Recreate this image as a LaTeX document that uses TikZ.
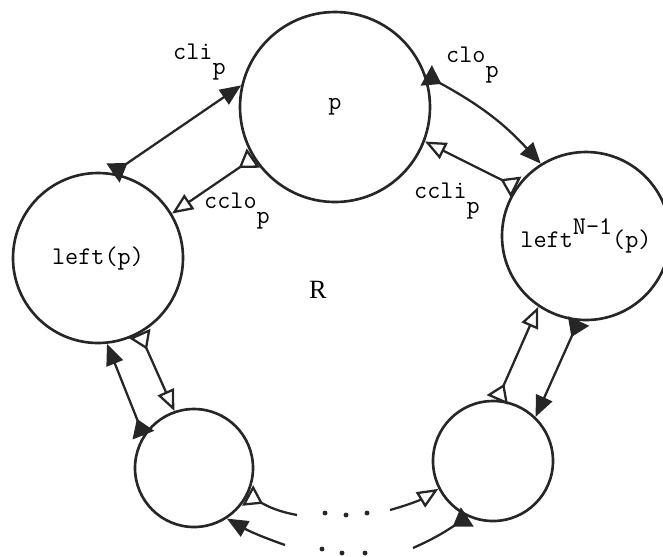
\documentclass[tikz,border=0pt]{standalone}
\usepackage{fontspec}
\setmainfont{Liberation Serif}
\usetikzlibrary{arrows.meta, decorations.markings}

\newcommand{\sublow}[1]{\raisebox{-0.62em}{#1}}
\newcommand{\suphigh}[1]{\raisebox{0.5em}{#1}}

\tikzset{
  proc/.style={draw=black!85, circle, line width=1.5pt, inner sep=0pt},
  tt/.style={font=\ttfamily\fontsize{14.5}{17}\selectfont},
  link/.style={line width=1.3pt, draw=black!85},
  fin/.style={postaction={decorate, decoration={markings,
    mark=at position 10pt with {\arrow{Triangle[length=10pt,width=13pt,#1]}}}}},
  fin/.default={},
  cwlink/.style={link, -{Triangle[length=12pt,width=10pt]}, fin},
  ccwlink/.style={link, -{Triangle[open,length=12pt,width=10pt]}, fin={fill=white}},
  cwin/.style={link, -{Triangle[length=12pt,width=10pt]}},
  cwout/.style={link, fin},
  ccwin/.style={link, -{Triangle[open,length=12pt,width=10pt]}},
  ccwout/.style={link, fin={fill=white}}
}

\begin{document}
\begin{tikzpicture}[x=0.02cm, y=-0.02cm, every node/.style={tt}]
  \useasboundingbox (0,0) rectangle (663,556);

  % --- Prosesser i ringen ---
  \node[proc, minimum size=190*0.02cm] (P) at (335,107) {p};
  \node[proc, minimum size=170*0.02cm] (left) at (98,258) {left(p)};
  \node[proc, minimum size=168*0.02cm] (right) at (586,236) {left\suphigh{N-1}(p)};
  \node[proc, minimum size=118*0.02cm] (bl) at (194,468) {};
  \node[proc, minimum size=120*0.02cm] (br) at (493,461) {};
  \node[font=\rmfamily\fontsize{15}{17}\selectfont] (ring) at (318,290) {R};

  % Kanaler p <-> left(p)
  \draw[cwlink] (left.80) -- (P.167);
  \draw[ccwlink] (P.212) -- (left.31);
  \node[anchor=base west] (clip) at (167,59) {cli\sublow{p}};
  \node[anchor=base west] (cclop) at (198,208) {cclo\sublow{p}};

  % Kanaler p <-> left^{N-1}(p)
  \draw[cwlink] (P.19) to[bend left=10] (right.122);
  \draw[ccwlink] (right.145) -- (P.339);
  \node[anchor=base west] (clop) at (440,62) {clo\sublow{p}};
  \node[anchor=base west] (cclip) at (408,198) {ccli\sublow{p}};

  % Nedover langs ringen
  \draw[cwlink] (bl.147) -- (left.276);
  \draw[ccwlink] (left.299) -- (bl.109);
  \draw[cwlink] (right.265) -- (br.46);
  \draw[ccwlink] (br.86) -- (right.236);

  % Lose ender mot resten av ringen
  \coordinate (blout) at (297,515);
  \coordinate (blin) at (285,545);
  \coordinate (brin) at (390,510);
  \coordinate (brout) at (413,548);
  \draw[ccwout] (bl.334) to[bend right=12] (blout);
  \draw[cwin] (blin) to[bend left=5] (bl.303);
  \draw[ccwin] (brin) to[bend right=8] (br.207);
  \draw[cwout] (br.245) to[bend left=6] (brout);

  % Prikker
  \fill[black!85] (325,513) circle (1.4pt) (346,515) circle (1.4pt) (367,513) circle (1.4pt);
  \fill[black!85] (322,549) circle (1.4pt) (342,553) circle (1.4pt) (365,553) circle (1.4pt);
\end{tikzpicture}
\end{document}
